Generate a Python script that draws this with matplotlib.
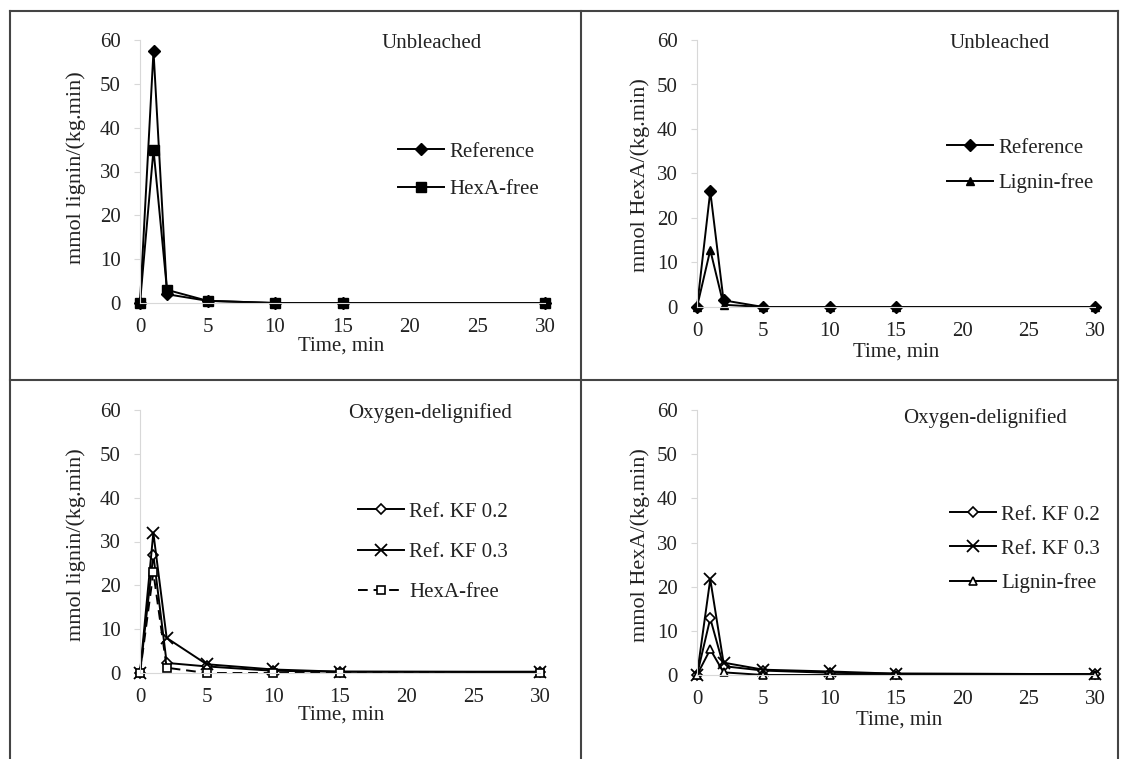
import matplotlib
matplotlib.use("Agg")
import matplotlib.pyplot as plt
from matplotlib.lines import Line2D

plt.rcParams['font.family'] = ['Liberation Serif', 'DejaVu Serif']

W, H = 1122, 759

time_min = [0, 1, 2, 5, 10, 15, 30]
x_ticks = [0, 5, 10, 15, 20, 25, 30]
y_ticks = [0, 10, 20, 30, 40, 50, 60]

# Panel 1: Unbleached, lignin
p1_reference = [0, 57.5, 2.0, 0.5, 0, 0, 0]
p1_hexa_free = [0, 35.0, 3.0, 0.5, 0, 0, 0]
# Panel 2: Unbleached, HexA
p2_reference = [0, 26.0, 1.5, 0, 0, 0, 0]
p2_lignin_free = [0, 12.8, 0.5, 0, 0, 0, 0]
# Panel 3: Oxygen-delignified, lignin
p3_kf02 = [0, 27.0, 2.3, 1.5, 0.5, 0.3, 0.2]
p3_kf03 = [0, 32.0, 8.0, 2.0, 0.8, 0.3, 0.3]
p3_hexa_free = [0, 23.0, 1.2, 0, 0, 0, 0]
# Panel 4: Oxygen-delignified, HexA
p4_kf02 = [0, 12.8, 2.0, 1.0, 0.5, 0.3, 0.2]
p4_kf03 = [0, 21.7, 2.8, 1.2, 0.8, 0.3, 0.2]
p4_lignin_free = [0, 5.8, 0.6, 0, 0, 0, 0]

fig = plt.figure(figsize=(W / 100, H / 100), dpi=100)
FS = 15
TFS = 15


def make_ax(left, top, right, bottom):
    ax = fig.add_axes([left / W, 1 - bottom / H, (right - left) / W, (bottom - top) / H])
    ax.set_xlim(0, 30)
    ax.set_ylim(0, 60)
    ax.set_xticks(x_ticks)
    ax.set_yticks(y_ticks)
    for s in ['top', 'right']:
        ax.spines[s].set_visible(False)
    ax.spines['left'].set_color('#d8d8d8')
    ax.spines['bottom'].set_color('#d8d8d8')
    ax.tick_params(axis='y', length=4, color='#d8d8d8', pad=10, labelsize=FS, labelcolor='#222222')
    ax.tick_params(axis='x', length=0, pad=11, labelsize=FS, labelcolor='#222222')
    ax.patch.set_alpha(0)
    return ax


def text_px(x, y, s, size=FS, **kw):
    fig.text(x / W, 1 - y / H, s, fontsize=size, color='#222222', ha='center', va='center', **kw)


def legend_px(ax, x, y, spacing):
    leg = ax.legend(loc='upper left', bbox_to_anchor=(x / W, 1 - y / H), bbox_transform=fig.transFigure,
                    frameon=False, fontsize=FS, handlelength=2.2, handletextpad=0.25,
                    labelspacing=spacing, borderpad=0, borderaxespad=0)
    for t in leg.get_texts():
        t.set_color('#222222')
    return leg


lw = 1.4
kw = dict(color='black', lw=lw, clip_on=False)

# Panel 1
ax1 = make_ax(140, 40, 545, 303)
ax1.plot(time_min, p1_reference, marker='D', ms=6, mfc='black', mec='black', label='Reference', **kw)
ax1.plot(time_min, p1_hexa_free, marker='s', ms=7, mfc='black', mec='black', label='HexA-free', **kw)
legend_px(ax1, 398, 142, 0.85)
text_px(432, 44, 'Unbleached', size=TFS)
text_px(341, 346, 'Time, min')
text_px(76, 168, 'mmol lignin/(kg.min)', size=16, rotation=90)

# Panel 2
ax2 = make_ax(697, 40, 1095, 307)
ax2.plot(time_min, p2_reference, marker='D', ms=6, mfc='black', mec='black', label='Reference', **kw)
ax2.plot(time_min, p2_lignin_free, marker='^', ms=6, mfc='black', mec='black', label='Lignin-free', **kw)
legend_px(ax2, 947, 138, 0.75)
text_px(1000, 44, 'Unbleached', size=TFS)
text_px(896, 352, 'Time, min')
text_px(640, 175, 'mmol HexA/(kg.min)', size=16, rotation=90)

# Panel 3
ax3 = make_ax(140, 410, 540, 673)
ax3.plot(time_min, p3_kf02, marker='D', ms=5, mfc='white', mec='black', mew=1.2, label='Ref. KF 0.2', **kw)
ax3.plot(time_min, p3_kf03, marker='x', ms=9, mew=1.3, mec='black', label='Ref. KF 0.3', **kw)
ax3.plot(time_min, p3_hexa_free, marker='s', ms=6, mfc='white', mec='black', mew=1.2, ls=(0, (5, 3)),
         label='HexA-free', color='black', lw=lw, clip_on=False)
legend_px(ax3, 358, 502, 1.0)
text_px(430, 413, 'Oxygen-delignified', size=TFS)
text_px(341, 715, 'Time, min')
text_px(76, 545, 'mmol lignin/(kg.min)', size=16, rotation=90)

# Panel 4
ax4 = make_ax(697, 410, 1095, 675)
ax4.plot(time_min, p4_kf02, marker='D', ms=5, mfc='white', mec='black', mew=1.2, label='Ref. KF 0.2', **kw)
ax4.plot(time_min, p4_kf03, marker='x', ms=9, mew=1.3, mec='black', label='Ref. KF 0.3', **kw)
ax4.plot(time_min, p4_lignin_free, marker='^', ms=6, mfc='white', mec='black', mew=1.2, label='Lignin-free', **kw)
legend_px(ax4, 950, 505, 0.7)
text_px(985, 418, 'Oxygen-delignified', size=TFS)
text_px(899, 720, 'Time, min')
text_px(640, 545, 'mmol HexA/(kg.min)', size=16, rotation=90)

# Panel borders
def hline(y, x0, x1):
    fig.add_artist(Line2D([x0 / W, x1 / W], [1 - y / H, 1 - y / H], color='#444444', lw=1.5))


def vline(x, y0, y1):
    fig.add_artist(Line2D([x / W, x / W], [1 - y0 / H, 1 - y1 / H], color='#444444', lw=1.5))


hline(11, 10, 1118)
hline(380, 10, 1118)
vline(10, 11, 759)
vline(581, 11, 759)
vline(1118, 11, 759)

fig.savefig('out.png', dpi=100)
